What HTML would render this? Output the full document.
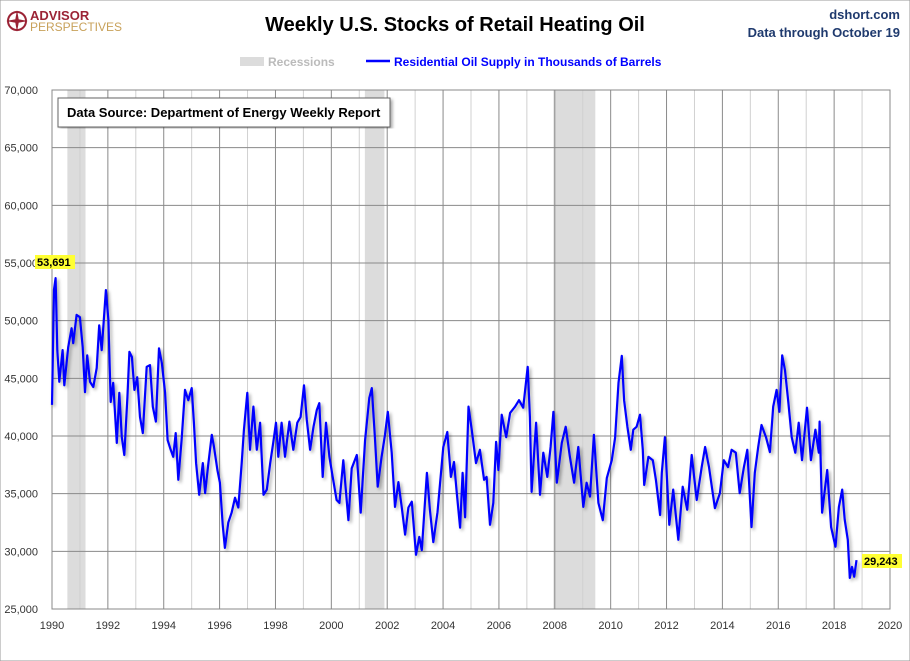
<!DOCTYPE html>
<html><head><meta charset="utf-8"><style>
body{margin:0;background:#fff;font-family:"Liberation Sans",sans-serif;}
#wrap{position:relative;width:910px;height:661px;overflow:hidden;}
</style></head><body>
<div id="wrap">
<svg id="svg" width="910" height="661" xmlns="http://www.w3.org/2000/svg">
<defs><filter id="sh" x="-5%" y="-5%" width="110%" height="110%"><feDropShadow dx="2" dy="2" stdDeviation="1.5" flood-color="#000" flood-opacity="0.35"/></filter></defs>
<rect x="0" y="0" width="910" height="661" fill="#fff" stroke="#999"/>
<g>
<circle cx="17" cy="21" r="9" fill="none" stroke="#9b2335" stroke-width="2"/>
<path d="M17 10 L19 21 L17 32 L15 21 Z M6 21 L17 19 L28 21 L17 23 Z" fill="#9b2335"/>
<text x="30" y="20" font-size="13" font-weight="bold" fill="#9b2335">ADVISOR</text>
<text x="30" y="31" font-size="12" fill="#c8a15a">PERSPECTIVES</text>
</g>
<text x="455" y="31" text-anchor="middle" font-size="20" font-weight="bold" fill="#000">Weekly U.S. Stocks of Retail Heating Oil</text>
<text x="900" y="19" text-anchor="end" font-size="13" font-weight="bold" fill="#1f3a6e">dshort.com</text>
<text x="900" y="37" text-anchor="end" font-size="13" font-weight="bold" fill="#1f3a6e">Data through October 19</text>
<g>
<rect x="240" y="57" width="24" height="9" fill="#dcdcdc"/>
<text x="268" y="66" font-size="12" fill="#bbb" font-weight="bold">Recessions</text>
<line x1="366" y1="61" x2="390" y2="61" stroke="#0000ff" stroke-width="2.5"/>
<text x="394" y="66" font-size="12" fill="#0000ff" font-weight="bold">Residential Oil Supply in Thousands of Barrels</text>
</g>
<g id="rec"></g><g id="grid"></g><g id="axes"></g><g id="series"></g>
<g>
<rect x="58" y="98" width="332" height="29" fill="#fff" stroke="#666" filter="url(#sh)"/>
<text x="67" y="117" font-size="13" font-weight="bold" fill="#000">Data Source: Department of Energy Weekly Report</text>
</g>
<g id="labels"></g>
</svg>
</div>
<script>
const recStart=[1990.55,2001.2,2007.95];
const recEnd=[1991.2,2001.9,2009.45];
const yTicks=[25000,30000,35000,40000,45000,50000,55000,60000,65000,70000];
const xTicks=[1990,1992,1994,1996,1998,2000,2002,2004,2006,2008,2010,2012,2014,2016,2018,2020];
const years=[1990.0,1990.07,1990.13,1990.19,1990.26,1990.38,1990.44,1990.58,1990.70,1990.76,1990.88,1991.0,1991.10,1991.18,1991.26,1991.36,1991.48,1991.60,1991.69,1991.78,1991.93,1992.02,1992.10,1992.19,1992.32,1992.41,1992.50,1992.59,1992.70,1992.77,1992.86,1992.95,1993.05,1993.15,1993.25,1993.39,1993.51,1993.61,1993.72,1993.83,1993.93,1994.05,1994.14,1994.25,1994.34,1994.43,1994.52,1994.64,1994.76,1994.88,1995.00,1995.08,1995.16,1995.27,1995.40,1995.48,1995.60,1995.72,1995.80,1995.92,1996.01,1996.11,1996.19,1996.31,1996.43,1996.55,1996.67,1996.79,1996.87,1996.99,1997.09,1997.21,1997.33,1997.45,1997.57,1997.69,1997.81,1997.92,1998.02,1998.10,1998.22,1998.34,1998.50,1998.64,1998.78,1998.90,1999.02,1999.12,1999.24,1999.36,1999.48,1999.57,1999.69,1999.81,1999.93,2000.05,2000.19,2000.29,2000.43,2000.61,2000.73,2000.91,2001.05,2001.21,2001.36,2001.45,2001.56,2001.66,2001.80,2001.92,2002.02,2002.16,2002.28,2002.40,2002.52,2002.64,2002.76,2002.88,2003.03,2003.15,2003.24,2003.42,2003.53,2003.65,2003.80,2004.01,2004.15,2004.28,2004.39,2004.49,2004.61,2004.70,2004.79,2004.91,2005.03,2005.18,2005.32,2005.47,2005.56,2005.68,2005.80,2005.90,2005.98,2006.10,2006.26,2006.40,2006.58,2006.72,2006.87,2007.03,2007.11,2007.17,2007.33,2007.47,2007.59,2007.73,2007.85,2007.95,2008.07,2008.25,2008.39,2008.54,2008.69,2008.84,2009.02,2009.14,2009.26,2009.40,2009.56,2009.72,2009.86,2010.04,2010.16,2010.28,2010.40,2010.48,2010.60,2010.72,2010.81,2010.93,2011.05,2011.15,2011.20,2011.35,2011.51,2011.62,2011.77,2011.83,2011.94,2012.10,2012.24,2012.42,2012.58,2012.74,2012.90,2013.08,2013.26,2013.38,2013.52,2013.73,2013.91,2014.05,2014.20,2014.33,2014.48,2014.62,2014.77,2014.89,2015.04,2015.16,2015.28,2015.40,2015.56,2015.70,2015.82,2015.94,2016.04,2016.14,2016.24,2016.36,2016.48,2016.61,2016.73,2016.85,2017.03,2017.17,2017.33,2017.45,2017.48,2017.57,2017.75,2017.89,2018.05,2018.17,2018.29,2018.38,2018.49,2018.56,2018.64,2018.72,2018.80];
const values=[42700,52700,53691,47450,44700,47450,44400,47700,49350,48050,50500,50300,47700,43800,47000,44700,44250,45900,49600,47450,52650,50050,42950,44600,39400,43750,39900,38350,43350,47300,46850,44000,45100,41650,40250,46000,46150,42550,41250,47600,46350,43750,39650,38800,38200,40250,36200,39650,44000,43100,44150,41150,37650,34900,37650,35050,37650,40100,39050,37050,35950,32300,30300,32500,33350,34650,33800,37650,40500,43750,38800,42550,38800,41150,34900,35350,37650,39400,41150,38200,41150,38200,41250,38800,41150,41650,44400,41400,38800,40800,42250,42850,36450,41150,38200,36450,34450,34200,37900,32700,37200,38350,33350,39650,43300,44150,39900,35600,38200,40100,42100,38550,33850,36000,33850,31450,33800,34300,29700,31250,30100,36800,33600,30800,33400,39050,40350,36450,37750,35050,32050,36800,32950,42550,40500,37650,38800,36200,36450,32300,34200,39500,37050,41850,39900,42000,42550,43100,42450,46000,41650,35150,41150,34900,38550,36450,39050,42100,35950,39400,40800,38200,35950,39050,33850,35950,34750,40100,34200,32700,36350,37900,39850,44600,46950,43100,40800,38800,40550,40800,41850,38800,35750,38200,37900,36200,33150,36800,39900,32300,35350,31000,35600,33600,38350,34450,37300,39050,37300,33750,35050,37900,37300,38800,38550,35050,37300,38800,32100,36800,39050,40950,39900,38600,42550,44000,42100,47000,45700,42950,39900,38550,41150,37900,42450,37900,40550,38550,41250,33350,37050,32100,30400,33850,35350,32750,31000,27700,28650,27800,29243];
const NS='http://www.w3.org/2000/svg';
const L=52,R=890,T=90,B=609;
const xS=y=>L+(y-1990)/30*(R-L);
const yS=v=>B-(v-25000)/45000*(B-T);
function mk(tag,attrs,parent){const e=document.createElementNS(NS,tag);for(const k in attrs)e.setAttribute(k,attrs[k]);parent.appendChild(e);return e;}
const rec=document.getElementById('rec'),grid=document.getElementById('grid'),axes=document.getElementById('axes'),ser=document.getElementById('series'),lab=document.getElementById('labels');
for(let i=0;i<recStart.length;i++){
 const r=mk('rect',{x:xS(recStart[i]),y:T,width:xS(recEnd[i])-xS(recStart[i]),height:B-T,fill:'#dcdcdc'},rec);
 
 
}
for(let yr=1990;yr<=2020;yr++){
 const l=mk('line',{x1:xS(yr),x2:xS(yr),y1:T,y2:B,stroke:yr%2===0?'#8a8a8a':'#d0d0d0','stroke-width':1},grid);
 
 
}
yTicks.forEach(v=>{
 const l=mk('line',{x1:L,x2:R,y1:yS(v),y2:yS(v),stroke:'#8a8a8a','stroke-width':1},grid);
 
 
 const t=mk('text',{x:L-14,y:yS(v)+4,'text-anchor':'end','font-size':11,fill:'#333'},axes);
 t.textContent=v.toLocaleString('en-US');
 
 
});
xTicks.forEach(yr=>{
 const t=mk('text',{x:xS(yr),y:B+20,'text-anchor':'middle','font-size':11,fill:'#333'},axes);
 t.textContent=yr;
 
 
});
const fr=mk('rect',{x:L,y:T,width:R-L,height:B-T,fill:'none',stroke:'#888'},axes);


const d=years.map((y,i)=>(i?'L':'M')+xS(y).toFixed(1)+' '+yS(values[i]).toFixed(1)).join(' ');
const p=mk('path',{d:d,fill:'none',stroke:'#0000ff','stroke-width':2.2,'stroke-linejoin':'round',filter:'url(#sh)'},ser);


function callout(v,x,y,name){
 const g=mk('g',{},lab);
 
 
 mk('rect',{x:x,y:y-11,width:40,height:14,fill:'#ffff33'},g);
 const t=mk('text',{x:x+2,y:y,'font-size':11,'font-weight':'bold',fill:'#000'},g);
 t.textContent=v.toLocaleString('en-US');
}
callout(Math.max(...values),35,266,'max-value-label');
callout(values[values.length-1],862,565,'last-value-label');
</script>
</body></html>
